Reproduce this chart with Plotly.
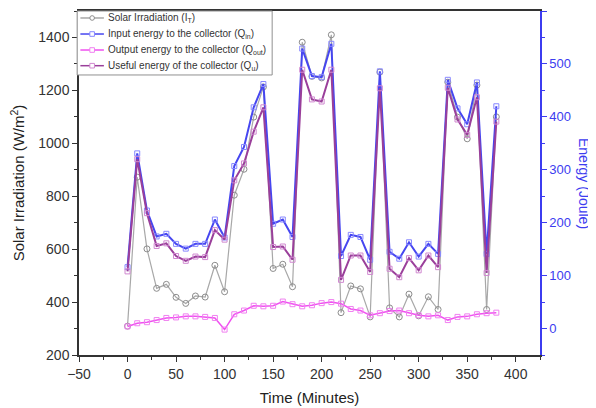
import plotly.graph_objects as go

time_min = list(range(0, 390, 10))

irradiation = [309, 872, 601, 452, 467, 418, 395, 423, 419, 539, 439, 804, 902, 1099, 1213,
               527, 543, 458, 1382, 1253, 1247, 1410, 360, 461, 450, 344, 1269, 378, 344,
               430, 348, 420, 372, 1231, 1099, 1017, 1220, 372, 1100]

q_in = [116, 331, 223, 174, 179, 160, 151, 160, 160, 206, 172, 307, 343, 418, 462,
        198, 206, 173, 529, 477, 475, 538, 137, 177, 173, 130, 486, 145, 132,
        163, 136, 160, 141, 470, 416, 386, 465, 141, 420]

q_out = [4, 10, 12, 16, 20, 21, 23, 23, 22, 20, -2, 27, 34, 43, 42,
         43, 51, 46, 42, 44, 48, 50, 47, 37, 34, 25, 29, 33, 34,
         29, 25, 23, 25, 16, 22, 23, 27, 29, 30]

q_u = [108, 320, 218, 156, 161, 137, 128, 136, 135, 186, 168, 280, 312, 372, 418,
       154, 155, 130, 489, 433, 429, 489, 92, 138, 138, 107, 454, 113, 97,
       133, 110, 138, 116, 455, 395, 366, 437, 105, 391]

series_names = ["Solar Irradiation (I<sub>T</sub>)",
                "Input energy to the collector (Q<sub>in</sub>)",
                "Output energy to the collector (Q<sub>out</sub>)",
                "Useful energy of the collector (Q<sub>u</sub>)"]

FONT = "Arial, Liberation Sans, sans-serif"
BLUE = "#3c3cf0"

styles = [
    dict(line="#a8a8a8", lw=1.2, mk="#8c8c8c", sym="circle-open", shape="circle"),
    dict(line="#4646f0", lw=2, mk="#8888ff", sym="square-open", shape="rect"),
    dict(line="#f050f0", lw=1.5, mk="#f080f0", sym="square-open", shape="rect"),
    dict(line="#9a3f9a", lw=2, mk="#d088d0", sym="square-open", shape="rect"),
]

fig = go.Figure()
for name, ys, axis, st in zip(series_names, [irradiation, q_in, q_out, q_u],
                              ["y", "y2", "y2", "y2"], styles):
    fig.add_trace(go.Scatter(
        x=time_min, y=ys, name=name, yaxis=axis, showlegend=False,
        mode="lines+markers", line=dict(color=st["line"], width=st["lw"]),
        marker=dict(symbol=st["sym"], size=5 if st["shape"] == "rect" else 6,
                    color=st["mk"], line=dict(width=1)),
    ))

# Hand-built legend box (compact, like the reference)
shapes = [dict(type="rect", xref="paper", yref="paper", x0=-0.004, x1=0.419, y0=0.814, y1=1.0,
               fillcolor="white", line=dict(color="#909090", width=1), layer="above")]
annotations = []
row_y = [0.9797, 0.9331, 0.8866, 0.841]
for name, st, ry in zip(series_names, styles, row_y):
    shapes.append(dict(type="line", xref="paper", yref="paper", x0=0.003, x1=0.054, y0=ry, y1=ry,
                       line=dict(color=st["line"], width=1.5), layer="above"))
    shapes.append(dict(type=st["shape"], xref="paper", yref="paper",
                       xsizemode="pixel", ysizemode="pixel", xanchor=0.0285, yanchor=ry,
                       x0=-2.3, x1=2.3, y0=-2.3, y1=2.3, fillcolor="white",
                       line=dict(color=st["mk"], width=1), layer="above"))
    annotations.append(dict(text=name, xref="paper", yref="paper", x=0.058, y=ry,
                            xanchor="left", yanchor="middle", showarrow=False,
                            font=dict(size=10, color="#333333", family=FONT)))

annotations.append(dict(text="Energy (Joule)", xref="paper", yref="paper", x=1, y=0.5,
                        xanchor="center", yanchor="middle", xshift=44, textangle=90,
                        showarrow=False, font=dict(size=14, color=BLUE, family=FONT)))

fig.update_layout(
    width=588, height=400,
    margin=dict(l=71, r=56, t=3, b=53, autoexpand=False),
    paper_bgcolor="white", plot_bgcolor="white",
    font=dict(family=FONT, color="#222222"),
    showlegend=False,
    shapes=shapes,
    annotations=annotations,
    xaxis=dict(range=[-50, 425], tickvals=[-50, 0, 50, 100, 150, 200, 250, 300, 350, 400],
               automargin=False,
               showgrid=False, zeroline=False, showline=True, linecolor="#333333", linewidth=1.5,
               mirror=True, ticks="outside", ticklen=5, tickcolor="#333333",
               minor=dict(dtick=25, tick0=-50, ticks="outside", ticklen=3, tickcolor="#333333"),
               tickfont=dict(size=14, color="#333333"),
               title=dict(text="Time (Minutes)", font=dict(size=15, color="#222222"), standoff=12)),
    yaxis=dict(range=[200, 1500], tickvals=[200, 400, 600, 800, 1000, 1200, 1400],
               automargin=False,
               showgrid=False, zeroline=False, showline=True, linecolor="#333333", linewidth=1.5,
               ticks="outside", ticklen=5, tickcolor="#333333",
               minor=dict(dtick=100, tick0=200, ticks="outside", ticklen=3, tickcolor="#333333"),
               tickfont=dict(size=14, color="#333333"),
               title=dict(text="Solar Irradiation (W/m<sup>2</sup>)", font=dict(size=15, color="#222222"), standoff=16)),
    yaxis2=dict(range=[-50, 600], overlaying="y", side="right",
                automargin=False,
                tickvals=[0, 100, 200, 300, 400, 500, 600],
                showgrid=False, zeroline=False, showline=True, linecolor=BLUE, linewidth=1.5,
                ticks="outside", ticklen=5, tickcolor=BLUE,
                minor=dict(dtick=50, tick0=0, ticks="outside", ticklen=3, tickcolor=BLUE),
                tickfont=dict(size=13, color=BLUE)),
)

fig.write_html("out.html")
